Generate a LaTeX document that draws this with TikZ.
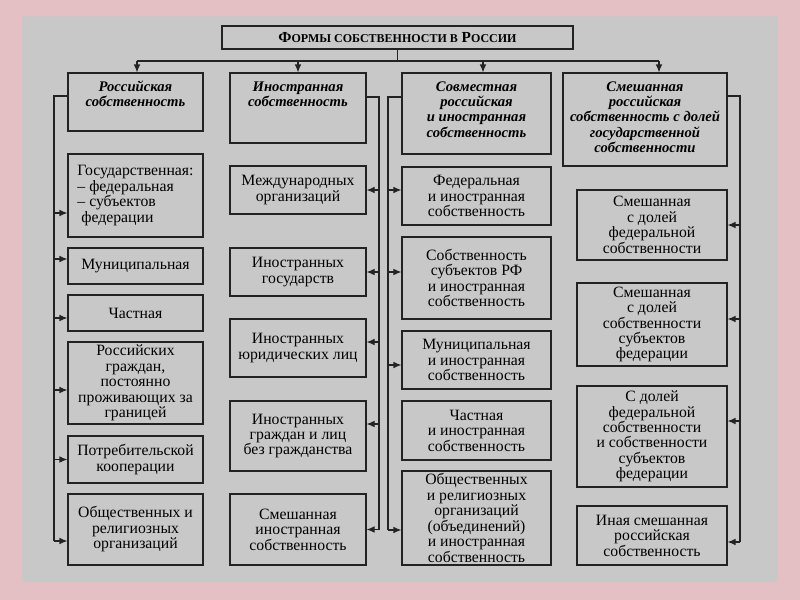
\documentclass[tikz,border=0pt]{standalone}
\usepackage{fontspec}
\setmainfont{Liberation Serif}
\usetikzlibrary{arrows.meta,calc}

\definecolor{pinkbg}{RGB}{228,192,197}
\definecolor{panel}{RGB}{200,200,200}
\definecolor{ink}{RGB}{35,35,35}

% header text: box width and height in px, text set from the top
\newcommand{\hdrtext}[3]{\parbox[c][\dimexpr0.75pt*#2\relax][t]{\dimexpr0.75pt*#1\relax}{\centering\rule{0pt}{13.5pt}#3}}
\newcommand{\smc}[1]{{\fontsize{9}{10}\selectfont #1}}

\begin{document}
\begin{tikzpicture}[
      x=0.75pt, y=-0.75pt,
      every node/.style={font=\fontsize{11.8}{11.6}\selectfont},
      box/.style={draw=ink, line width=0.85pt, inner sep=0.5pt, align=center},
      hdr/.style={box, inner sep=0pt, font=\fontsize{11}{11.6}\selectfont\bfseries\itshape},
      sz/.style 2 args={minimum width=#1*0.75pt, minimum height=#2*0.75pt},
      wire/.style={draw=ink, line width=0.85pt},
      arrow/.style={wire, -{Latex[length=6pt,width=5pt]}}
  ]
    % background
    \useasboundingbox[fill=pinkbg] (0,0) rectangle (800,600);
    \fill[panel] (22,16) rectangle (778,582);

    \node[box, sz={351}{23}] (title) at (397.5,37.5)
      {\fontsize{11.5}{12}\selectfont\bfseries Ф\smc{ОРМЫ СОБСТВЕННОСТИ В} Р\smc{ОССИИ}};

    % column headers
    \node[hdr] (h1) at (135.5,102) {\hdrtext{135}{58}{Российская\\собственность}};
    \node[hdr] (h2) at (298,108) {\hdrtext{136}{70}{Иностранная\\собственность}};
    \node[hdr] (h3) at (476.5,113.5) {\hdrtext{149}{81}{Совместная\\российская\\и иностранная\\собственность}};
    \node[hdr] (h4) at (645,119.5) {\hdrtext{164}{93}{Смешанная\\российская\\собственность с долей\\государственной\\собственности}};

    % column 1
    \node[box, sz={135}{83}, align=left] (gos) at (135.5,195.5) {Государственная:\\– федеральная\\– субъектов\\\hspace{0.25em}федерации};
    \node[box, sz={135}{36}] (mun) at (135.5,266) {Муниципальная};
    \node[box, sz={135}{36}] (chast) at (135.5,313) {Частная};
    \node[box, sz={135}{82}] (rgr) at (135.5,383) {Российских\\граждан,\\постоянно\\проживающих за\\границей};
    \node[box, sz={135}{47}] (potr) at (135.5,459.5) {Потребительской\\кооперации};
    \node[box, sz={135}{71}] (obsh) at (135.5,529.5) {Общественных и\\религиозных\\организаций};

    % column 2
    \node[box, sz={136}{48}] (mezhd) at (298,190) {Международных\\организаций};
    \node[box, sz={136}{48}] (igos) at (298,272) {Иностранных\\государств};
    \node[box, sz={136}{58}] (iyur) at (298,348) {Иностранных\\юридических лиц};
    \node[box, sz={136}{70}] (igr) at (298,436) {Иностранных\\граждан и лиц\\без гражданства};
    \node[box, sz={136}{71}] (ismesh) at (298,529.5) {Смешанная\\иностранная\\собственность};

    % column 3
    \node[box, sz={149}{58}] (sfed) at (476.5,196) {Федеральная\\и иностранная\\собственность};
    \node[box, sz={149}{82}] (ssub) at (476.5,278) {Собственность\\субъектов РФ\\и иностранная\\собственность};
    \node[box, sz={149}{58}] (smun) at (476.5,360) {Муниципальная\\и иностранная\\собственность};
    \node[box, sz={149}{59}] (schast) at (476.5,430.5) {Частная\\и иностранная\\собственность};
    \node[box, sz={149}{94}] (sobsh) at (476.5,518) {Общественных\\и религиозных\\организаций\\(объединений)\\и иностранная\\собственность};

    % column 4
    \node[box, sz={150}{70}] (mfed) at (652,225) {Смешанная\\с долей\\федеральной\\собственности};
    \node[box, sz={150}{83}] (msub) at (652,324.5) {Смешанная\\с долей\\собственности\\субъектов\\федерации};
    \node[box, sz={150}{101}] (mdol) at (652,436.5) {С долей\\федеральной\\собственности\\и собственности\\субъектов\\федерации};
    \node[box, sz={150}{59}] (minaya) at (652,535.5) {Иная смешанная\\российская\\собственность};

    % title to headers
    \coordinate (k1) at (137,61);
    \coordinate (k2) at (298,61);
    \coordinate (k3) at (483,61);
    \coordinate (k4) at (659,61);
    \draw[wire] (title.south) -- (title.south |- k1);
    \draw[wire] (k1) -- (k4);
    \foreach \k/\h in {k1/h1, k2/h2, k3/h3, k4/h4}
      \draw[arrow] (\k) -- (\k |- \h.north);

    % spines
    \coordinate (t1) at (54,96);
    \coordinate (t2) at (379,97);
    \coordinate (t3) at (388,97);
    \coordinate (t4) at (740,96);
    \draw[wire] (t1 -| h1.west) -- (t1) -- (54,541);
    \draw[wire] (t2 -| h2.east) -- (t2) -- (379,530);
    \draw[wire] (t3 -| h3.west) -- (t3) -- (388,530);
    \draw[wire] (t4 -| h4.east) -- (t4) -- (740,542);

    \foreach \n/\d in {gos/17.5, mun/-7, chast/5, rgr/7, potr/0, obsh/11.5} {
      \coordinate (p\n) at ($(\n.west)+(0,\d)$);
      \draw[arrow] (t1 |- p\n) -- (p\n);
    }
    \foreach \n/\d in {mezhd/0, igos/0, iyur/-6, igr/-12, ismesh/0} {
      \coordinate (p\n) at ($(\n.east)+(0,\d)$);
      \draw[arrow] (t2 |- p\n) -- (p\n);
    }
    \foreach \n/\d in {sfed/-6, ssub/-6, smun/5, sobsh/12} {
      \coordinate (p\n) at ($(\n.west)+(0,\d)$);
      \draw[arrow] (t3 |- p\n) -- (p\n);
    }
    \foreach \n/\d in {mfed/0, msub/-5.5, mdol/-15.5, minaya/6.5} {
      \coordinate (p\n) at ($(\n.east)+(0,\d)$);
      \draw[arrow] (t4 |- p\n) -- (p\n);
    }
  \end{tikzpicture}
\end{document}
